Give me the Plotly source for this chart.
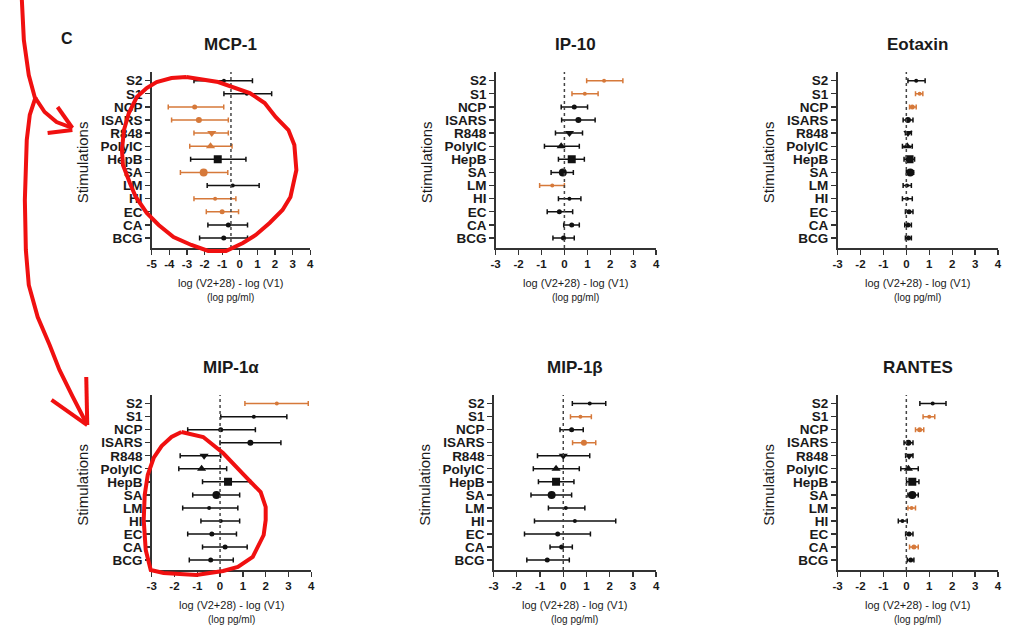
import plotly.graph_objects as go

# ---------------- data ----------------
stimulations = ["S2", "S1", "NCP", "ISARS", "R848", "PolyIC", "HepB", "SA", "LM", "HI", "EC", "CA", "BCG"]
cytokines = ["MCP-1", "IP-10", "Eotaxin", "MIP-1α", "MIP-1β", "RANTES"]

mcp1_mean = [-0.9, 0.4, -2.56, -2.32, -1.59, -1.66, -1.25, -2.05, -0.40, -1.40, -1.00, -0.65, -0.91]
mcp1_low = [-2.6, -0.9, -4.06, -3.87, -2.60, -2.84, -2.79, -3.37, -1.85, -2.60, -1.90, -1.81, -2.28]
mcp1_high = [0.72, 1.81, -0.91, -0.65, -0.65, -0.44, 0.35, -0.68, 1.10, -0.22, -0.07, 0.44, 0.44]
mcp1_sig = [0, 0, 1, 1, 1, 1, 0, 1, 0, 1, 1, 0, 0]

ip10_mean = [1.73, 0.89, 0.43, 0.61, 0.22, -0.14, 0.32, -0.07, -0.53, 0.22, -0.22, 0.32, -0.04]
ip10_low = [0.97, 0.33, -0.14, -0.12, -0.39, -0.87, -0.26, -0.58, -1.08, -0.26, -0.75, -0.03, -0.50]
ip10_high = [2.55, 1.47, 1.01, 1.34, 0.79, 0.65, 0.87, 0.39, 0.0, 0.72, 0.36, 0.65, 0.43]
ip10_sig = [1, 1, 0, 0, 0, 0, 0, 0, 1, 0, 0, 0, 0]

eotaxin_mean = [0.43, 0.58, 0.26, 0.07, 0.07, 0.04, 0.14, 0.17, 0.03, 0.03, 0.12, 0.07, 0.09]
eotaxin_low = [0.07, 0.40, 0.14, -0.14, -0.04, -0.17, -0.10, 0.0, -0.14, -0.17, -0.04, -0.07, -0.04]
eotaxin_high = [0.82, 0.72, 0.43, 0.29, 0.22, 0.26, 0.36, 0.32, 0.22, 0.26, 0.29, 0.22, 0.22]
eotaxin_sig = [0, 1, 1, 0, 0, 0, 0, 0, 0, 0, 0, 0, 0]

mip1a_mean = [2.49, 1.48, 0.03, 1.33, -0.70, -0.81, 0.35, -0.16, -0.48, 0.03, -0.36, 0.22, -0.41]
mip1a_low = [1.09, 0.03, -1.42, 0.0, -1.75, -1.81, -0.77, -1.20, -1.64, -0.84, -1.42, -0.77, -1.35]
mip1a_high = [3.87, 2.93, 1.55, 2.67, 0.03, 0.29, 1.33, 0.86, 0.78, 0.86, 0.72, 1.19, 0.58]
mip1a_sig = [1, 0, 0, 0, 0, 0, 0, 0, 0, 0, 0, 0, 0]

mip1b_mean = [1.14, 0.74, 0.36, 0.89, 0.0, -0.31, -0.31, -0.50, 0.11, 0.50, -0.24, -0.07, -0.69]
mip1b_low = [0.39, 0.31, -0.14, 0.40, -1.11, -1.29, -1.07, -1.39, -0.64, -1.24, -1.67, -0.57, -1.57]
mip1b_high = [1.83, 1.21, 0.86, 1.40, 1.14, 0.69, 0.46, 0.36, 0.93, 2.26, 1.17, 0.39, 0.26]
mip1b_sig = [0, 1, 0, 1, 0, 0, 0, 0, 0, 0, 0, 0, 0]

rantes_mean = [1.15, 1.00, 0.58, 0.09, 0.12, 0.09, 0.26, 0.26, 0.23, -0.17, 0.12, 0.33, 0.19]
rantes_low = [0.59, 0.73, 0.40, -0.10, -0.03, -0.24, 0.01, 0.07, 0.07, -0.35, -0.03, 0.14, 0.04]
rantes_high = [1.73, 1.24, 0.76, 0.29, 0.29, 0.52, 0.55, 0.52, 0.40, 0.04, 0.29, 0.52, 0.33]
rantes_sig = [0, 1, 1, 0, 0, 0, 0, 0, 1, 0, 0, 1, 0]

x_ticks_mcp1 = [-5, -4, -3, -2, -1, 0, 1, 2, 3, 4]
x_ticks_other = [-3, -2, -1, 0, 1, 2, 3, 4]
x_ticks = [x_ticks_mcp1, x_ticks_other, x_ticks_other, x_ticks_other, x_ticks_other, x_ticks_other]
ref_lines = [-0.5, 0, 0, 0, 0, 0]

panels = [
    (mcp1_mean, mcp1_low, mcp1_high, mcp1_sig),
    (ip10_mean, ip10_low, ip10_high, ip10_sig),
    (eotaxin_mean, eotaxin_low, eotaxin_high, eotaxin_sig),
    (mip1a_mean, mip1a_low, mip1a_high, mip1a_sig),
    (mip1b_mean, mip1b_low, mip1b_high, mip1b_sig),
    (rantes_mean, rantes_low, rantes_high, rantes_sig),
]

# ---------------- style ----------------
W, H = 1012, 629
FONT = "Liberation Sans"
ORANGE = "#D6793A"
BLACK = "#111111"
AXIS = "#333333"
TXT = "#1a1a1a"
symbol_style = {
    "S2": ("circle", 4), "S1": ("circle", 4), "NCP": ("circle", 5), "ISARS": ("circle", 6),
    "R848": ("triangle-down", 8), "PolyIC": ("triangle-up", 8), "HepB": ("square", 8),
    "SA": ("circle", 8), "LM": ("circle", 4), "HI": ("circle", 4), "EC": ("circle", 5),
    "CA": ("circle", 5), "BCG": ("circle", 5),
}

# panel pixel boxes (left, right, top, bottom)
px_boxes = [
    (148, 308, 72, 248), (495, 657, 72, 248), (840, 1002, 72, 248),
    (148, 309, 395, 570), (493, 657, 395, 570), (840, 1002, 395, 570),
]
y_range = [-0.76, 12.66]
n = len(stimulations)
y_idx = [n - 1 - i for i in range(n)]

fig = go.Figure()
layout = {}
annotations = []
shapes = []


def label(text, x, y, size, bold=False, angle=0):
    return dict(text=("<b>%s</b>" % text) if bold else text, x=x / W, y=1 - y / H,
                xref="paper", yref="paper", showarrow=False, textangle=angle,
                xanchor="center", yanchor="middle",
                font=dict(family=FONT, size=size, color=TXT))


for p, ((mean, low, high, sig), box) in enumerate(zip(panels, px_boxes)):
    k = "" if p == 0 else str(p + 1)
    xa, ya = "x" + k, "y" + k
    l, r, t, b = box
    for i, s in enumerate(stimulations):
        col = ORANGE if sig[i] else BLACK
        sym, size = symbol_style[s]
        fig.add_trace(go.Scatter(
            x=[mean[i]], y=[y_idx[i]], mode="markers", xaxis=xa, yaxis=ya,
            marker=dict(symbol=sym, size=size, color=col, line=dict(width=0)),
            error_x=dict(type="data", symmetric=False,
                         array=[high[i] - mean[i]], arrayminus=[mean[i] - low[i]],
                         color=col, thickness=1.5, width=2.5),
            showlegend=False, hoverinfo="skip",
        ))
    ticks = x_ticks[p]
    layout["xaxis" + k] = dict(
        domain=[l / W, r / W], range=[ticks[0], ticks[-1] + 0.001], anchor=ya,
        tickmode="array", tickvals=ticks, ticktext=[str(v) for v in ticks],
        ticks="outside", ticklen=5, tickwidth=1.3,
        tickcolor=AXIS, showline=True, linecolor=AXIS, linewidth=1.5,
        showgrid=False, zeroline=False, fixedrange=True,
        tickfont=dict(family=FONT, size=11.5, color=TXT, weight="bold"),
    )
    layout["yaxis" + k] = dict(
        domain=[1 - b / H, 1 - t / H], range=y_range, anchor=xa,
        tickmode="array", tickvals=y_idx, ticktext=stimulations,
        ticks="outside", ticklen=5, tickwidth=1.3, tickcolor=AXIS,
        showline=True, linecolor=AXIS, linewidth=1.5, showgrid=False, zeroline=False,
        fixedrange=True,
        tickfont=dict(family=FONT, size=13.5, color=TXT, weight="bold"),
    )
    shapes.append(dict(type="line", xref=xa, yref=ya + " domain",
                       x0=ref_lines[p], x1=ref_lines[p], y0=0, y1=1,
                       line=dict(color="#444", width=1.5, dash="dot")))
    cx = (l + r) / 2
    annotations.append(label(cytokines[p], cx, t - 28, 17, bold=True))
    annotations.append(label("Stimulations", l - 70, (t + b) / 2 + 2, 15, angle=-90))
    annotations.append(label("log (V2+28) - log (V1)", cx, b + 35, 11))
    annotations.append(label("(log pg/ml)", cx, b + 49, 10))

annotations.append(label("C", 63, 38, 16, bold=True))


# ---------------- red hand-drawn annotations ----------------
def red_path(pts, closed=False):
    d = "M " + " L ".join(f"{x / W:.4f},{1 - y / H:.4f}" for x, y in pts)
    if closed:
        d += " Z"
    return dict(type="path", xref="paper", yref="paper", path=d,
                line=dict(color="#F01010", width=4))


strokes = [
    [(17, 0), (19, 40), (24, 75), (30, 97), (40, 112), (52, 122), (68, 128)],
    [(53, 107), (68, 128)],
    [(43, 133), (68, 130)],
    [(31, 97), (25, 115), (22, 140), (20, 200), (21, 250), (24, 285), (33, 317), (45, 345),
     (55, 370), (68, 396), (82, 423)],
    [(82, 377), (83, 425)],
    [(47, 400), (83, 425)],
]
loop1 = [(183, 77), (215, 82), (247, 93), (262, 103), (273, 117), (286, 130), (292, 145),
         (294, 170), (288, 197), (280, 210), (267, 223), (253, 235), (240, 243), (223, 251),
         (205, 251), (188, 245), (170, 237), (155, 225), (143, 213), (132, 197), (126, 183),
         (119, 165), (118, 150), (120, 130), (125, 113), (133, 97), (143, 88), (153, 82),
         (168, 78), (183, 77)]
loop2 = [(178, 432), (200, 437), (220, 453), (243, 477), (258, 492), (263, 507), (263, 520),
         (261, 535), (250, 557), (235, 567), (220, 571), (193, 575), (160, 573), (147, 570),
         (142, 550), (140, 520), (141, 495), (144, 475), (150, 458), (158, 446), (168, 437),
         (178, 432)]
for s in strokes:
    shapes.append(red_path(s))
shapes.append(red_path(loop1))
shapes.append(red_path(loop2))

fig.update_layout(
    **layout,
    width=W, height=H, autosize=False,
    margin=dict(l=0, r=0, t=0, b=0),
    paper_bgcolor="white", plot_bgcolor="white",
    annotations=annotations, shapes=shapes, showlegend=False,
)
fig.write_html("out.html", config={"displayModeBar": False, "staticPlot": True},
               post_script="document.body.style.margin='0';document.body.style.padding='0';"
                           "document.body.style.overflow='hidden';")
